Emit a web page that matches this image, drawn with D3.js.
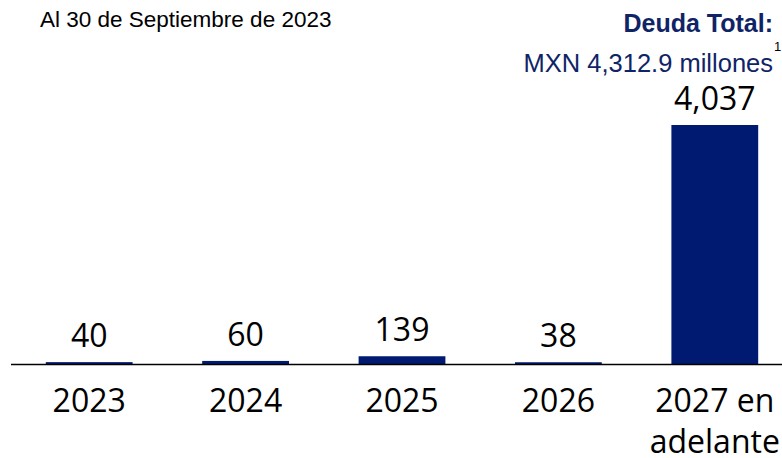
<!DOCTYPE html>
<html>
<head>
<meta charset="utf-8">
<script src="https://cdn.jsdelivr.net/npm/d3@7"></script>
<style>
  html, body { margin: 0; padding: 0; background: #fff; }
  svg { display: block; }
</style>
</head>
<body>
<svg id="chart" width="782" height="458"></svg>
<script>
// Debt maturity profile (MXN millions)
const categories = ["2023", "2024", "2025", "2026", "2027 en adelante"];
const categoryLines = [["2023"], ["2024"], ["2025"], ["2026"], ["2027 en", "adelante"]];
const values = [40, 60, 139, 38, 4037];
const valueLabels = ["40", "60", "139", "38", "4,037"];

const dateNote = "Al 30 de Septiembre de 2023";
const totalTitle = "Deuda Total:";
const totalValue = "MXN 4,312.9 millones";
const totalNote = "1";

const W = 782, H = 458;
const baseY = 364.5;
const navy = "#001a72";
const textNavy = "#0f2466";
const labelFont = "'Open Sans', 'Noto Sans', sans-serif";
const headFont = "'Liberation Sans', Arial, sans-serif";

const svg = d3.select("#chart");

const x = d3.scaleBand()
  .domain(categories)
  .range([11, 793])
  .paddingInner(0.445)
  .paddingOuter(0.2225);

const y = d3.scaleLinear()
  .domain([0, 4037])
  .range([baseY, 125]);

// bars
svg.append("g")
  .selectAll("rect")
  .data(categories)
  .join("rect")
  .attr("x", d => x(d))
  .attr("y", (d, i) => y(values[i]))
  .attr("width", x.bandwidth())
  .attr("height", (d, i) => baseY - y(values[i]))
  .attr("fill", navy);

// value labels above bars
svg.append("g")
  .selectAll("text")
  .data(categories)
  .join("text")
  .attr("x", d => x(d) + x.bandwidth() / 2)
  .attr("y", (d, i) => y(values[i]) - 15)
  .attr("text-anchor", "middle")
  .attr("font-family", labelFont)
  .attr("font-size", 32)
  .attr("fill", "#000")
  .text((d, i) => valueLabels[i]);

// baseline
svg.append("line")
  .attr("x1", 11).attr("x2", W)
  .attr("y1", baseY).attr("y2", baseY)
  .attr("stroke", "#000")
  .attr("stroke-width", 1.5);

// category labels
const cat = svg.append("g")
  .selectAll("text")
  .data(categories)
  .join("text")
  .attr("x", d => x(d) + x.bandwidth() / 2)
  .attr("y", 412)
  .attr("text-anchor", "middle")
  .attr("font-family", labelFont)
  .attr("font-size", 32)
  .attr("fill", "#000");
cat.selectAll("tspan")
  .data((d, i) => categoryLines[i])
  .join("tspan")
  .attr("x", function () { return d3.select(this.parentNode).attr("x"); })
  .attr("dy", (d, j) => j === 0 ? 0 : 41)
  .text(d => d);

// header texts
svg.append("text")
  .attr("x", 40).attr("y", 27)
  .attr("font-family", headFont)
  .attr("font-size", 22.5)
  .attr("fill", "#000")
  .text(dateNote);

svg.append("text")
  .attr("x", 773).attr("y", 32)
  .attr("text-anchor", "end")
  .attr("font-family", headFont)
  .attr("font-weight", "bold")
  .attr("font-size", 25)
  .attr("fill", textNavy)
  .text(totalTitle);

svg.append("text")
  .attr("x", 773).attr("y", 72)
  .attr("text-anchor", "end")
  .attr("font-family", headFont)
  .attr("font-size", 25.5)
  .attr("fill", textNavy)
  .text(totalValue);

svg.append("text")
  .attr("x", 774).attr("y", 51)
  .attr("font-family", headFont)
  .attr("font-size", 13)
  .attr("fill", "#000")
  .text(totalNote);
</script>
</body>
</html>
